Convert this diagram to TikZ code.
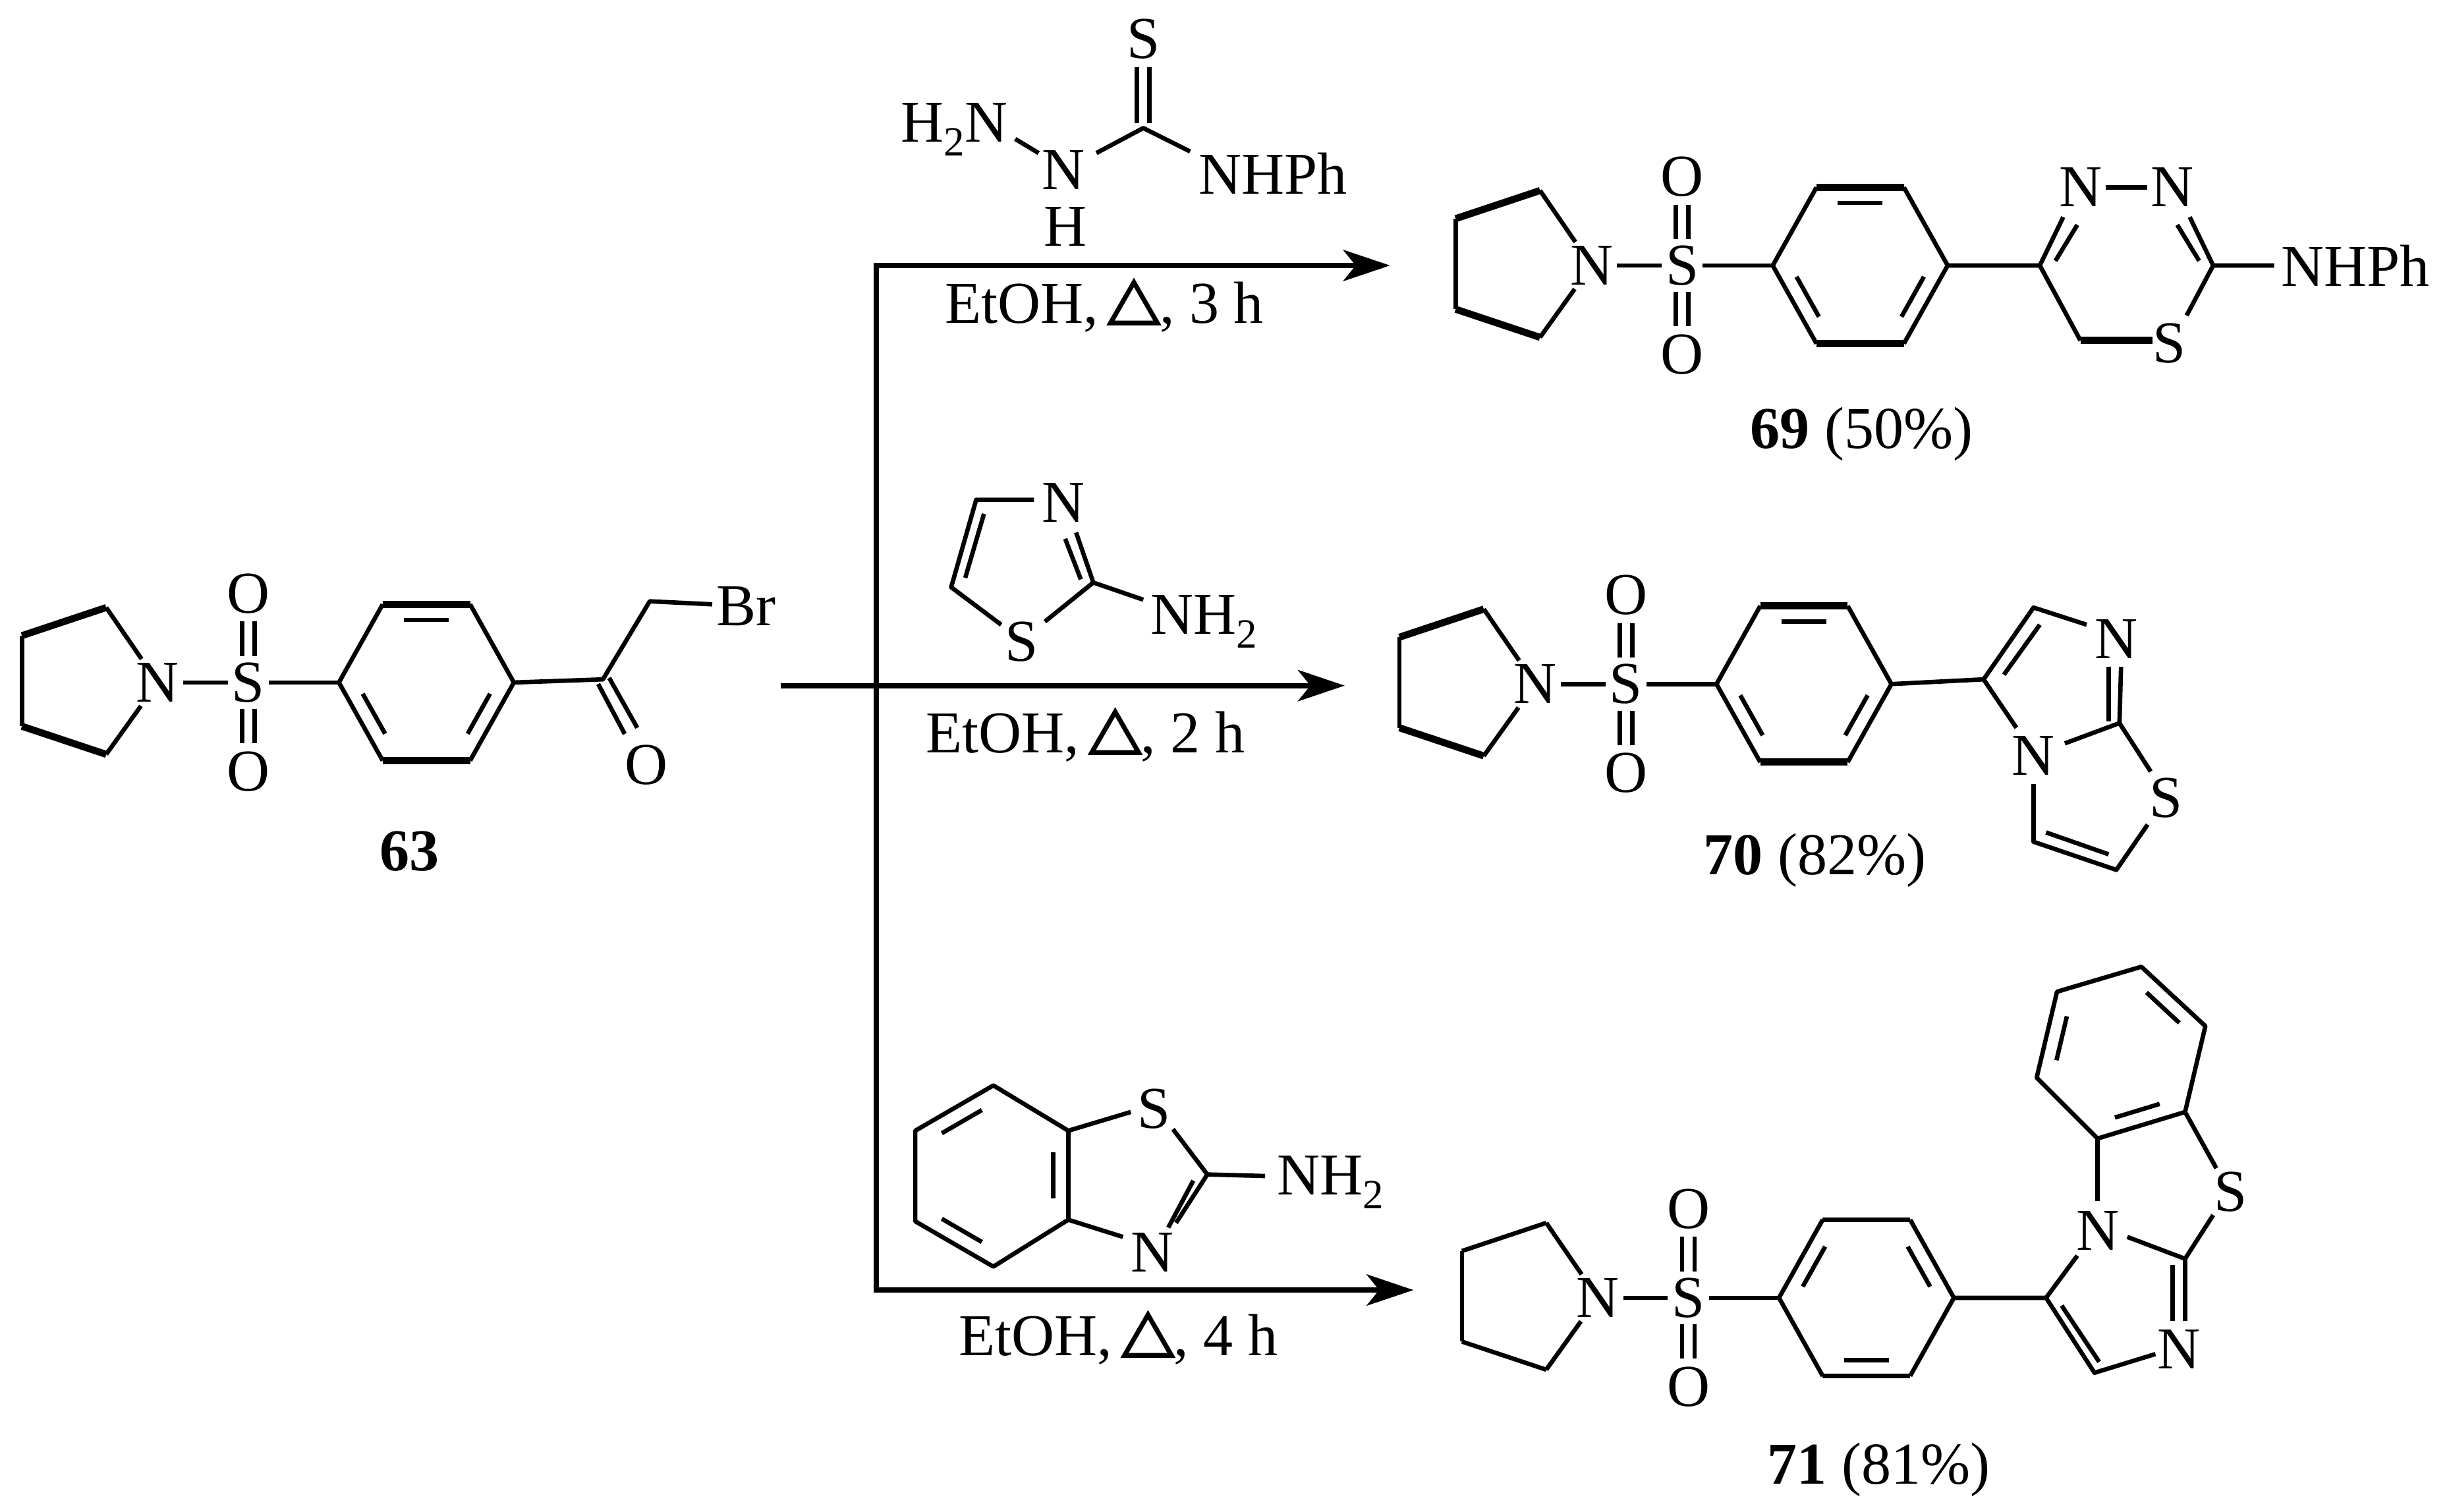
\documentclass[tikz,border=0pt]{standalone}
\usepackage{fontspec}
\setmainfont{Liberation Serif}
\usetikzlibrary{calc,arrows.meta}
\tikzset{
  atom/.style={inner sep=1.2pt,font=\fontsize{38}{40}\selectfont},
  lbl/.style={inner sep=0pt,font=\fontsize{38}{40}\selectfont},
  rxn/.style={line width=3.4pt,-{Stealth[length=30pt,width=20pt,inset=8pt]}},
  fat/.style={line width=4pt}
}
\newcommand\heattri{\tikz[baseline=0pt,x=1pt,y=1pt]\draw[line width=3pt,line join=miter](0,0)--(30,0)--(15,26)--cycle;}
\newcommand\inb[3]{\draw ($($(#1)!0.18!(#2)$)!0.2!(#3)$) -- ($($(#2)!0.18!(#1)$)!0.2!(#3)$);}
\newcommand\sulfunit[4]{%
\begin{scope}[shift={#2}]
\node[atom] (#1N) at (0,0) {N};
\node[atom] (#1S) at (58,0) {S};
\node[atom] (#1Ot) at (58,-57) {O};
\node[atom] (#1Ob) at (58,57) {O};
\coordinate (#1pa) at (-33,-48); \coordinate (#1pb) at (-87,-30);
\coordinate (#1pc) at (-87,28); \coordinate (#1pd) at (-33,46);
\coordinate (#1r1) at (116,0); \coordinate (#1r2) at (144,-50);
\coordinate (#1r3) at (200,-50); \coordinate (#1r4) at (228,0);
\coordinate (#1r5) at (200,50); \coordinate (#1r6) at (144,50);
\coordinate (#1c) at (172,0);
\draw (#1N) -- (#1pa); \draw[line width=#4] (#1pa) -- (#1pb);
\draw (#1pb) -- (#1pc); \draw[line width=#4] (#1pc) -- (#1pd); \draw (#1pd) -- (#1N);
\draw (#1N) -- (#1S); \draw (#1S) -- (#1r1);
\draw (54,-39)--(54,-17) (62,-39)--(62,-17) (54,17)--(54,39) (62,17)--(62,39);
\draw (#1r1)--(#1r2); \draw[line width=#4] (#1r2)--(#1r3); \draw (#1r3)--(#1r4)--(#1r5);
\draw[line width=#4] (#1r5)--(#1r6); \draw (#1r6)--(#1r1);
\ifnum#3=1 \inb{#1r2}{#1r3}{#1c}\inb{#1r1}{#1r6}{#1c}\inb{#1r4}{#1r5}{#1c}%
\else \inb{#1r1}{#1r2}{#1c}\inb{#1r3}{#1r4}{#1c}\inb{#1r5}{#1r6}{#1c}\fi
\end{scope}}
\begin{document}
\begin{tikzpicture}[x=1pt,y=-1pt,line width=2.8pt,line join=round]
\useasboundingbox (0,0) rectangle (1568,968);
% ---------- 63
\sulfunit{a}{(101,437)}{1}{4.5pt}
\coordinate (aC) at (386,435); \coordinate (aCH) at (416,385);
\node[atom,anchor=west] (aBr) at (456,388) {Br};
\node[atom] (aO) at (414,490) {O};
\draw (ar4) -- (aC) -- (aCH) -- (aBr);
\draw (383,438) -- (400,470); \draw (390,434) -- (408,466);
\node[lbl,font=\fontsize{38}{40}\selectfont\bfseries] (l63) at (262,545) {63};
% ---------- arrows
\coordinate (v1) at (561,170); \coordinate (v2) at (561,826);
\coordinate (t1) at (890,170); \coordinate (t3) at (905,826);
\coordinate (m0) at (500,439); \coordinate (m1) at (861,439);
\draw[line width=3.4pt] (v1) -- (v2);
\draw[rxn] ([xshift=-1.7pt]v1) -- (t1);
\draw[rxn] ([xshift=-1.7pt]v2) -- (t3);
\draw[rxn] (m0) -- (m1);
\node[lbl] (c1) at (707,196) {EtOH,\,\heattri, 3 h};
\node[lbl] (c2) at (695,471) {EtOH,\,\heattri, 2 h};
\node[lbl] (c3) at (716,857) {EtOH,\,\heattri, 4 h};
% ---------- reagent 1
\node[atom] (r1S) at (732,25) {S};
\node[atom] (r1H2N) at (611,83) {H\textsubscript{2}N};
\node[atom] (r1N) at (681,109) {N};
\node[atom] (r1H) at (682,145) {H};
\node[atom] (r1Ph) at (815,111) {NHPh};
\coordinate (r1C) at (732,82);
\draw (650,89) -- (665,98);
\draw (702,98) -- (r1C) -- (762,97);
\draw (728,79) -- (728,43) (736,79) -- (736,43);
% ---------- reagent 2
\node[atom] (r2N) at (681,322) {N};
\node[atom] (r2S) at (654,411) {S};
\node[atom,anchor=west] (r2NH) at (734,398) {NH\textsubscript{2}};
\coordinate (r2C4) at (625,320); \coordinate (r2C5) at (609,376); \coordinate (r2C2) at (700,373);
\draw (662,320) -- (r2C4) -- (r2C5) -- (641,400);
\draw (669,398) -- (r2C2) -- (689,341);
\draw (682,345) -- (692,371);
\draw (630,329) -- (618,370);
\draw (r2C2) -- (732,384);
% ---------- reagent 3
\coordinate (b1) at (636,695); \coordinate (b2) at (586,724); \coordinate (b3) at (586,782);
\coordinate (b4) at (636,811); \coordinate (b5) at (684,781); \coordinate (b6) at (684,724);
\coordinate (bc) at (635,753); \coordinate (bC2) at (773,752);
\draw (b1)--(b2)--(b3)--(b4)--(b5)--(b6)--cycle;
\inb{b1}{b2}{bc}\inb{b3}{b4}{bc}\inb{b5}{b6}{bc}
\node[atom] (r3S) at (739,710) {S};
\node[atom] (r3N) at (738,802) {N};
\node[atom,anchor=west] (r3NH) at (815,757) {NH\textsubscript{2}};
\draw (b6) -- (724,712); \draw (b5) -- (719,792);
\draw (751,723) -- (bC2) -- (753,783);
\draw (764,756) -- (748,786);
\draw (bC2) -- (810,753);
% ---------- 69
\sulfunit{p}{(1019,170)}{1}{4.5pt}
\coordinate (pC5) at (1306,170); \coordinate (pC2) at (1417,170); \coordinate (pC6) at (1332,218);
\node[atom] (pN4) at (1332,120) {N};
\node[atom] (pN3) at (1391,120) {N};
\node[atom] (pS1) at (1389,220) {S};
\node[atom,anchor=west] (pPh) at (1458,170) {NHPh};
\draw (pr4) -- (pC5) -- (1321,139);
\draw (1330,144) -- (1316,167);
\draw (pN4) -- (pN3);
\draw (1402,139) -- (pC2) -- (1456,170);
\draw (1394,144) -- (1408,167);
\draw (pC2) -- (1400,202);
\draw (pC5) -- (pC6); \draw[line width=4.5pt] (pC6) -- (1378,218);
\node[lbl] (l69) at (1192,278) {\textbf{69} (50\%)};
% ---------- 70
\sulfunit{q}{(983,438)}{1}{4.5pt}
\coordinate (qC3) at (1270,435); \coordinate (qC2) at (1302,389); \coordinate (qC7) at (1357,463);
\coordinate (qC5) at (1302,539); \coordinate (qC6) at (1355,557);
\node[atom] (qN1) at (1355,409) {N};
\node[atom] (qN4) at (1302,484) {N};
\node[atom] (qS) at (1387,511) {S};
\draw (qr4) -- (qC3) -- (qC2) -- (1336,400);
\draw (1306,400) -- (1283,432);
\draw (1350,427) -- (1350,462); \draw (1358,427) -- (qC7);
\draw (qC3) -- (1291,466);
\draw (1322,476) -- (qC7) -- (1377,494);
\draw (1302,502) -- (qC5) -- (qC6) -- (1375,528);
\draw (1310,533) -- (1350,547);
\node[lbl] (l70) at (1162,551) {\textbf{70} (82\%)};
% ---------- 71
\sulfunit{s}{(1023,831)}{2}{2.8pt}
\coordinate (sC3) at (1310,831); \coordinate (sC2) at (1341,879); \coordinate (sC8) at (1399,806);
\coordinate (k1) at (1343,729); \coordinate (k2) at (1399,712); \coordinate (k3) at (1412,657);
\coordinate (k4) at (1371,619); \coordinate (k5) at (1317,635); \coordinate (k6) at (1304,690);
\coordinate (kc) at (1358,674);
\node[atom] (sN1) at (1395,864) {N};
\node[atom] (sN) at (1343,788) {N};
\node[atom] (sS) at (1428,763) {S};
\draw (sr4) -- (sC3) -- (sC2) -- (1380,867);
\draw (1320,836) -- (1344,872);
\draw (1391,810) -- (1391,846); \draw (sC8) -- (1399,846);
\draw (sC3) -- (1330,804);
\draw (1362,792) -- (sC8) -- (1417,778);
\draw (1419,748) -- (k2);
\draw (1343,769) -- (k1);
\draw (k1)--(k2)--(k3)--(k4)--(k5)--(k6)--cycle;
\inb{k1}{k2}{kc}\inb{k3}{k4}{kc}\inb{k5}{k6}{kc}
\node[lbl] (l71) at (1203,941) {\textbf{71} (81\%)};
\end{tikzpicture}
\end{document}
